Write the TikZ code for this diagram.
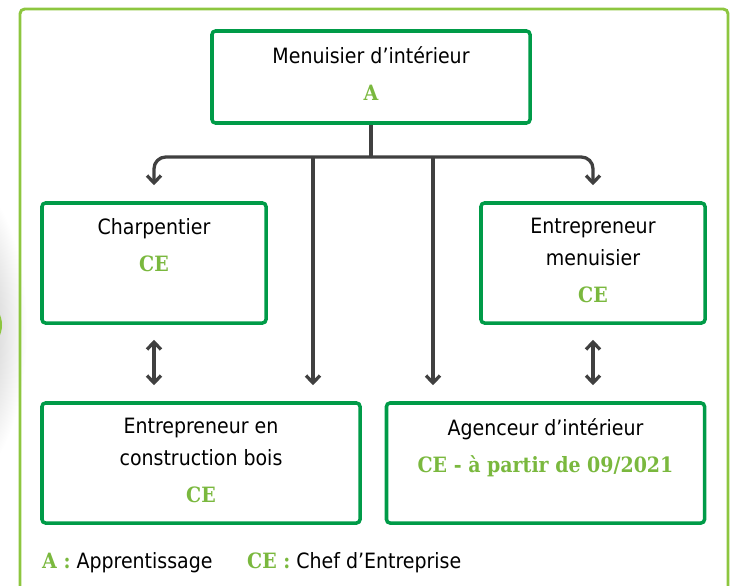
\documentclass[tikz,border=0pt]{standalone}
\usepackage{fontspec}
\usetikzlibrary{positioning,arrows.meta}
\newfontfamily\condfont{DejaVu Sans Condensed}
\newfontfamily\slabfont{DejaVu Serif Condensed}
\definecolor{frameGreen}{RGB}{141,198,63}
\definecolor{boxGreen}{RGB}{0,155,72}
\definecolor{txtGreen}{RGB}{122,184,62}
\definecolor{lineGray}{RGB}{64,64,64}
\newcommand{\grn}[1]{{\color{txtGreen}\slabfont\bfseries\fontsize{18}{27}\selectfont #1}}
\tikzset{
  box/.style={draw=boxGreen, line width=3pt, rounded corners=3pt,
    minimum width=6.72cm, minimum height=3.6cm, inner sep=0pt},
  widebox/.style={box, minimum width=9.54cm},
  txt/.style={font=\condfont\fontsize{18}{27}\selectfont, align=center, inner sep=0pt},
  conn/.style={draw=lineGray, line width=2.8pt},
  arr/.style={conn, -{Straight Barb[length=0.22cm,width=0.42cm]}},
  dblarr/.style={conn, {Straight Barb[length=0.22cm,width=0.42cm]}-{Straight Barb[length=0.22cm,width=0.42cm]}}
}
\begin{document}
\begin{tikzpicture}[x=0.03cm,y=-0.03cm]
\useasboundingbox (0,0) rectangle (741,585);
%\draw[help lines] (0,0) grid[step=50] (741,585);

\shade[inner color=gray!55, outer color=white] (-35,330) ellipse (62 and 150);
\fill[frameGreen] (-42,325) ellipse (44 and 34);
\draw[frameGreen, line width=2.5pt, rounded corners=4pt] (20,9) rectangle (728,620);

\node[widebox, minimum height=2.76cm] (menu)  at (371,77) {};
\node[box] (charp) at (154,263) {};
\node[box] (emen)  at (593,263) {};
\node[widebox] (ebois) at (201,463) {};
\node[widebox] (agen)  at (545.5,463) {};

\node[txt, below=0.5cm of menu.north]  (menutxt)  {Menuisier d’intérieur\\[5pt] \grn{A}};
\node[txt, below=0.5cm of charp.north] (charptxt) {Charpentier\\[5pt] \grn{CE}};
\node[txt, below=0.5cm of emen.north]  (ementxt)  {Entrepreneur\\ menuisier\\[5pt] \grn{CE}};
\node[txt, below=0.5cm of ebois.north] (eboistxt) {Entrepreneur en\\ construction bois\\[5pt] \grn{CE}};
\node[txt, below=0.5cm of agen.north]  (agentxt)  {Agenceur d’intérieur\\[5pt] \grn{CE - à partir de 09/2021}};

\coordinate (bar) at (371,157);
\coordinate (b1)  at (313,157);
\coordinate (b2)  at (433,157);

\draw[conn] (menu.south) -- (bar);
\draw[arr, rounded corners=10pt, shorten >=0.48cm] (bar) -| (charp.north);
\draw[arr, rounded corners=10pt, shorten >=0.48cm] (bar) -| (emen.north);
\draw[arr, shorten >=0.48cm] (b1) -- (b1 |- ebois.north);
\draw[arr, shorten >=0.48cm] (b2) -- (b2 |- agen.north);
\draw[dblarr, shorten <=0.45cm, shorten >=0.48cm] (charp.south) -- (charp.south |- ebois.north);
\draw[dblarr, shorten <=0.45cm, shorten >=0.48cm] (emen.south) -- (emen.south |- agen.north);

\node[txt, anchor=base west] (legA)  at (42,568)  {\grn{A :} Apprentissage};
\node[txt, anchor=base west] (legCE) at (247,568) {\grn{CE :} Chef d’Entreprise};
\end{tikzpicture}
\end{document}
